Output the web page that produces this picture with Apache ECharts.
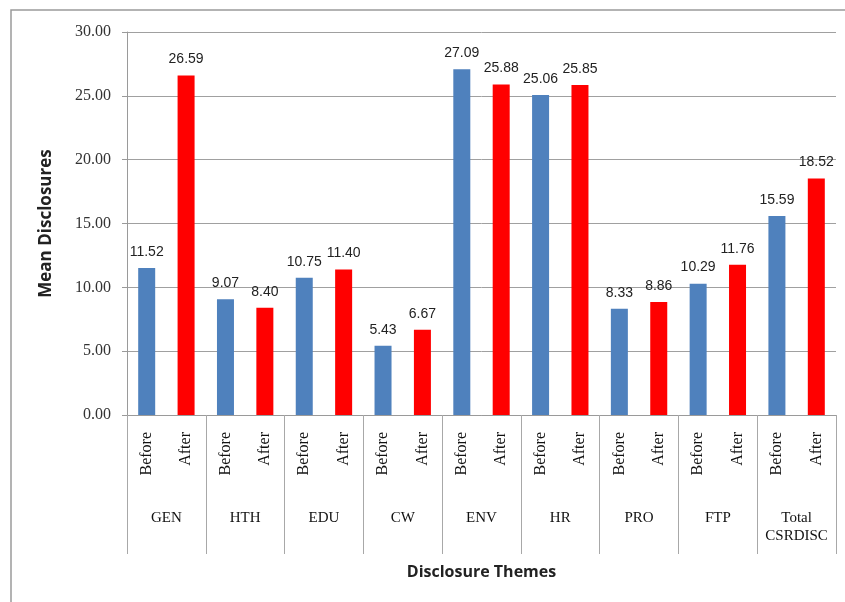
<!DOCTYPE html>
<html>
<head>
<meta charset="utf-8">
<script src="https://cdn.jsdelivr.net/npm/echarts@6/dist/echarts.min.js"></script>
<style>
html,body{margin:0;padding:0;background:#ffffff;}
#chart{width:845px;height:602px;}
</style>
</head>
<body>
<div id="chart"></div>
<script>
const themes = ['GEN', 'HTH', 'EDU', 'CW', 'ENV', 'HR', 'PRO', 'FTP', 'Total\nCSRDISC'];
const phases = ['Before', 'After'];
const beforeValues = [11.52, 9.07, 10.75, 5.43, 27.09, 25.06, 8.33, 10.29, 15.59];
const afterValues = [26.59, 8.40, 11.40, 6.67, 25.88, 25.85, 8.86, 11.76, 18.52];
const yTicks = [0, 5, 10, 15, 20, 25, 30];

const subCats = [];
const beforeData = [];
const afterData = [];
themes.forEach((t, i) => {
  subCats.push(phases[0], phases[1]);
  beforeData.push(beforeValues[i], null);
  afterData.push(null, afterValues[i]);
});

const chart = echarts.init(document.getElementById('chart'));
const labelStyle = {
  show: true, position: 'top', distance: 9,
  fontFamily: 'Liberation Sans, Arial, sans-serif', fontSize: 14, color: '#222',
  formatter: p => p.value == null ? '' : Number(p.value).toFixed(2)
};
chart.setOption({
  animation: false,
  backgroundColor: '#ffffff',
  grid: { left: 127, right: 9, top: 32, bottom: 187, containLabel: false },
  xAxis: [
    {
      type: 'category', data: subCats, position: 'bottom',
      axisLine: { show: true, lineStyle: { color: '#9a9a9a', width: 1 } },
      axisTick: { show: false },
      axisLabel: {
        rotate: 90, margin: 17, interval: 0,
        fontFamily: 'Liberation Serif, Times New Roman, serif', fontSize: 16, color: '#111'
      }
    },
    {
      type: 'category', data: themes, position: 'bottom',
      axisLine: { show: false },
      axisTick: { show: true, length: 139, lineStyle: { color: '#a8a8a8', width: 1 } },
      axisLabel: {
        margin: 94, interval: 0, lineHeight: 18,
        fontFamily: 'Liberation Serif, Times New Roman, serif', fontSize: 15, color: '#111'
      },
      name: 'Disclosure Themes', nameLocation: 'middle', nameGap: 149,
      nameTextStyle: { fontFamily: 'Open Sans, Liberation Sans, sans-serif', fontWeight: 'bold', fontSize: 16, color: '#222' }
    }
  ],
  yAxis: {
    type: 'value', min: 0, max: 30, interval: 5,
    name: 'Mean Disclosures', nameLocation: 'middle', nameGap: 72,
    nameTextStyle: { fontFamily: 'Open Sans, Liberation Sans, sans-serif', fontWeight: 'bold', fontSize: 17, color: '#222' },
    axisLine: { show: true, lineStyle: { color: '#9a9a9a' } },
    axisTick: { show: true, length: 5, lineStyle: { color: '#9a9a9a' } },
    axisLabel: {
      margin: 16, fontFamily: 'Liberation Serif, Times New Roman, serif', fontSize: 16, color: '#333',
      formatter: v => yTicks.includes(v) ? v.toFixed(2) : ''
    },
    splitLine: { show: true, lineStyle: { color: '#a0a0a0', width: 1 } }
  },
  series: [
    {
      name: 'Before', type: 'bar', xAxisIndex: 0, data: beforeData,
      barWidth: 17, barGap: '-100%',
      itemStyle: { color: '#4f81bd' }, label: labelStyle
    },
    {
      name: 'After', type: 'bar', xAxisIndex: 0, data: afterData,
      barWidth: 17, barGap: '-100%',
      itemStyle: { color: '#ff0000' }, label: labelStyle
    }
  ],
  graphic: [
    { type: 'rect', shape: { x: 11, y: 10, width: 900, height: 700 }, style: { fill: 'none', stroke: '#9a9a9a', lineWidth: 1.5 }, silent: true }
  ]
});
</script>
</body>
</html>
